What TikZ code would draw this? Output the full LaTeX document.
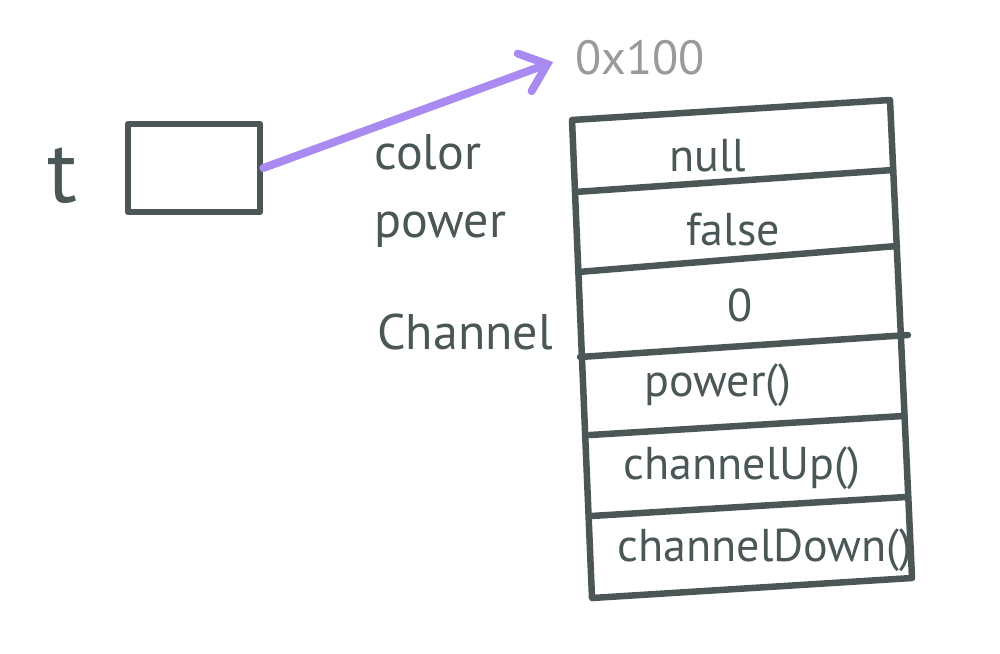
\documentclass[tikz,border=0pt]{standalone}
\usepackage{fontspec}
\setmainfont{PT Sans}
\usetikzlibrary{arrows.meta}
\definecolor{ink}{HTML}{4B5656}
\definecolor{refcol}{HTML}{A98AF0}
\definecolor{addrcol}{HTML}{9A9A9A}

\begin{document}
\begin{tikzpicture}[x=1pt,y=1pt]
\tikzstyle{every node}+=[inner sep=0pt, text=ink]
\tikzset{
  pen/.style={draw=ink, line width=6.5pt, line cap=round, line join=round},
  fieldlabel/.style={font=\fontsize{50}{50}\selectfont},
  cellval/.style={font=\fontsize{46}{46}\selectfont},
  ref/.style={draw=refcol, line width=8pt, line cap=round,
    -{Straight Barb[length=24pt,width=40pt,line cap=round]}}
}
\useasboundingbox (0,0) rectangle (1000,-653);
% variable and its box
\node (tvar) at (62,-176) {\fontsize{88}{88}\selectfont t};
\node [pen, minimum width=132pt, minimum height=88pt] (ptr) at (194,-168) {};
% address
\node [text=addrcol, font=\fontsize{48}{48}\selectfont] (addr) at (640,-58) {0x100};
\draw [ref] (ptr.east) -- ([xshift=-22pt,yshift=-4pt]addr.west);
% object outline
\draw [pen] (572,-120) -- (890,-100) -- (912,-578) -- (592,-598) -- cycle;
\draw [pen] (575,-192) -- (893,-170);
\draw [pen] (578,-272) -- (897,-246);
\draw [pen] (580,-357) -- (908,-335);
\draw [pen] (590,-435) -- (903,-416);
\draw [pen] (591,-516) -- (906,-497);
% field names
\node [fieldlabel] (fcolor) at (428,-152) {color};
\node [fieldlabel] (fpower) at (440,-230) {power};
\node [fieldlabel] (fchannel) at (465,-332) {Channel};
% field values and methods
\node [cellval] (vcolor) at (708,-156) {null};
\node [cellval] (vpower) at (733,-230) {false};
\node [cellval] (vchannel) at (740,-305) {0};
\node [cellval] (mpower) at (718,-385) {power()};
\node [cellval] (mup) at (742,-468) {channelUp()};
\node [cellval] (mdown) at (765,-550) {channelDown()};
\end{tikzpicture}
\end{document}
